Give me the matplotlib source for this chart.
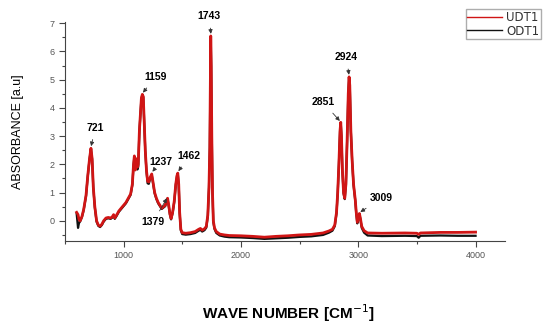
import matplotlib.pyplot as plt
from matplotlib.lines import Line2D
from matplotlib.ticker import MultipleLocator

# wavenumber grid (cm-1) and absorbance of both samples
wn = [600, 612, 620, 630, 645, 660, 680, 695, 710, 722, 732, 742, 755, 770, 785,
      800, 815, 830, 850, 870, 890, 905, 915, 925, 940, 960, 980, 1000, 1020, 1040,
      1060, 1075, 1085, 1092, 1100, 1110, 1118, 1125, 1135, 1145, 1152, 1160, 1168,
      1176, 1185, 1195, 1205, 1215, 1228, 1240, 1250, 1265, 1280, 1295, 1310, 1325,
      1340, 1355, 1365, 1375, 1385, 1395, 1405, 1418, 1432, 1445, 1455, 1462, 1470,
      1478, 1488, 1500, 1530, 1570, 1610, 1640, 1655, 1670, 1690, 1705, 1718, 1728,
      1735, 1740, 1743, 1747, 1752, 1758, 1765, 1775, 1790, 1820, 1860, 1900, 2000,
      2100, 2200, 2300, 2400, 2500, 2600, 2700, 2750, 2780, 2800, 2815, 2825, 2835,
      2845, 2851, 2857, 2865, 2875, 2885, 2895, 2905, 2915, 2922, 2928, 2937, 2948,
      2960, 2975, 2983, 2992, 3003, 3010, 3018, 3030, 3050, 3080, 3200, 3400, 3500,
      3515, 3530, 3700, 3850, 4000]

udt1 = [0.30, 0.22, 0.05, 0.00, 0.15, 0.40, 0.90, 1.60, 2.20, 2.57, 2.20, 1.20, 0.50,
        0.00, -0.15, -0.19, -0.12, 0.00, 0.10, 0.12, 0.10, 0.15, 0.22, 0.10, 0.20,
        0.35, 0.45, 0.55, 0.65, 0.80, 0.95, 1.30, 2.00, 2.30, 1.80, 2.20, 1.90, 2.00,
        3.20, 3.90, 4.35, 4.48, 4.40, 3.50, 2.50, 1.80, 1.40, 1.38, 1.55, 1.66, 1.40,
        1.00, 0.80, 0.65, 0.55, 0.45, 0.50, 0.55, 0.70, 0.80, 0.55, 0.25, 0.08, 0.30,
        0.70, 1.30, 1.60, 1.69, 1.30, 0.30, -0.30, -0.42, -0.44, -0.42, -0.38, -0.30,
        -0.27, -0.33, -0.28, -0.20, 0.20, 1.20, 2.60, 5.00, 6.55, 5.50, 3.00, 1.00,
        0.00, -0.25, -0.38, -0.47, -0.50, -0.52, -0.53, -0.55, -0.58, -0.55, -0.53,
        -0.50, -0.48, -0.43, -0.36, -0.30, -0.15, 0.30, 1.00, 2.00, 3.20, 3.49, 3.00,
        1.80, 1.00, 0.80, 1.30, 2.80, 4.50, 5.10, 4.80, 3.20, 2.15, 1.30, 0.73, 0.30,
        -0.05, 0.15, 0.26, 0.10, -0.20, -0.35, -0.43, -0.44, -0.43, -0.44, -0.48,
        -0.43, -0.41, -0.41, -0.40]

odt1 = [0.26, -0.25, -0.08, -0.02, 0.13, 0.38, 0.88, 1.58, 2.18, 2.55, 2.18, 1.18, 0.47,
        -0.03, -0.18, -0.22, -0.15, -0.03, 0.07, 0.09, 0.07, 0.12, 0.18, 0.07, 0.17,
        0.32, 0.42, 0.52, 0.62, 0.77, 0.92, 1.27, 1.97, 2.27, 1.84, 2.12, 1.82, 1.92,
        3.17, 3.87, 4.33, 4.46, 4.38, 3.47, 2.47, 1.77, 1.33, 1.31, 1.52, 1.63, 1.37,
        0.97, 0.77, 0.62, 0.52, 0.42, 0.47, 0.52, 0.67, 0.77, 0.52, 0.22, 0.05, 0.27,
        0.67, 1.27, 1.57, 1.67, 1.27, 0.27, -0.34, -0.47, -0.49, -0.47, -0.43, -0.35,
        -0.32, -0.38, -0.33, -0.24, 0.17, 1.17, 2.57, 4.97, 6.53, 5.47, 2.97, 0.97,
        -0.04, -0.29, -0.43, -0.52, -0.56, -0.58, -0.59, -0.61, -0.64, -0.62, -0.60,
        -0.57, -0.55, -0.50, -0.42, -0.35, -0.19, 0.27, 0.97, 1.97, 3.17, 3.47, 2.97,
        1.77, 0.97, 0.77, 1.27, 2.77, 4.47, 5.08, 4.77, 3.17, 2.12, 1.27, 0.70, 0.27,
        -0.09, 0.12, 0.23, 0.06, -0.25, -0.42, -0.52, -0.54, -0.53, -0.54, -0.60,
        -0.53, -0.52, -0.53, -0.53]

# peak labels: text, peak position, label position
peaks = ["721", "1159", "1237", "1379", "1462", "1743", "2851", "2924", "3009"]
peak_xy = [(722, 2.62), (1162, 4.52), (1242, 1.72), (1372, 0.82), (1464, 1.74),
           (1745, 6.6), (2847, 3.52), (2922, 5.15), (3013, 0.3)]
label_xy = [(760, 3.3), (1270, 5.1), (1315, 2.1), (1250, -0.05), (1560, 2.3),
            (1730, 7.25), (2700, 4.2), (2900, 5.8), (3200, 0.8)]

plt.rcParams['font.family'] = ['Liberation Sans', 'DejaVu Sans']

fig = plt.figure(figsize=(5.5, 3.26), dpi=100)
ax = fig.add_axes([0.118, 0.262, 0.80, 0.671])

ax.plot(wn, odt1, color='#111111', lw=1.6)
ax.plot(wn, udt1, color='#d01515', lw=2.0)

for txt, p, t in zip(peaks, peak_xy, label_xy):
    ax.annotate(txt, xy=p, xytext=t, fontsize=7.5, fontweight='bold',
                ha='center', va='center',
                arrowprops=dict(arrowstyle='-|>', color='#333333', lw=0.6,
                                mutation_scale=6, shrinkA=3, shrinkB=0.5))

ax.set_xlim(500, 4250)
ax.set_ylim(-0.7, 7.05)
ax.xaxis.set_minor_locator(MultipleLocator(500))
ax.yaxis.set_major_locator(MultipleLocator(1))
ax.yaxis.set_minor_locator(MultipleLocator(0.5))
ax.set_xticks([1000, 2000, 3000, 4000])

for s in ['top', 'right']:
    ax.spines[s].set_visible(False)
for s in ['left', 'bottom']:
    ax.spines[s].set_color('#444444')
    ax.spines[s].set_linewidth(0.8)
ax.tick_params(which='both', direction='out', colors='#444444', labelsize=6.5,
               labelcolor='#555555', width=0.8)
ax.tick_params(which='major', length=4)
ax.tick_params(which='minor', length=2.5)

ax.set_ylabel('ABSORBANCE [a.u]', fontsize=9, labelpad=18)
fig.text(0.525, 0.04, 'WAVE NUMBER [CM$^{-1}$]', fontsize=11, fontweight='bold',
         ha='center', va='center')

handles = [Line2D([], [], color='#d01515', lw=1.0),
           Line2D([], [], color='#111111', lw=1.0)]
fig.legend(handles, ['UDT1', 'ODT1'], loc='upper right', bbox_to_anchor=(0.995, 0.99),
           prop={'family': 'DejaVu Sans', 'size': 8.5}, labelcolor='#333333',
           frameon=True, fancybox=False, edgecolor='#999999',
           handlelength=2.9, borderpad=0.15, labelspacing=0.05, handletextpad=0.4)

fig.savefig('out.png', dpi=100)
